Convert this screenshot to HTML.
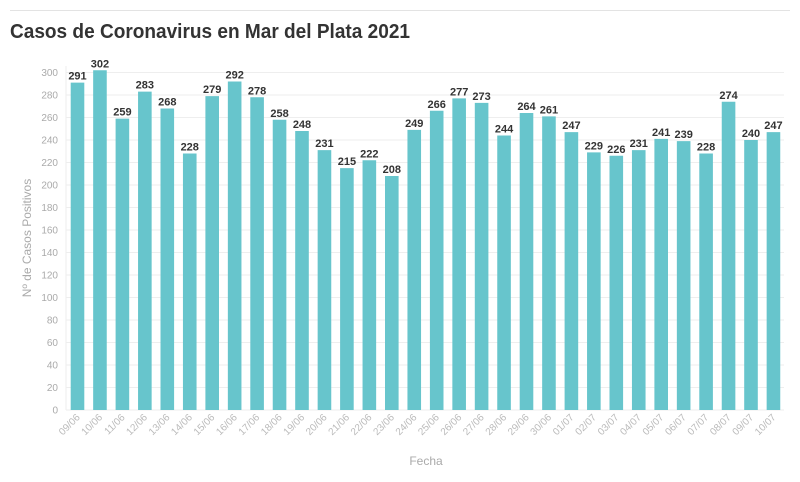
<!DOCTYPE html>
<html><head><meta charset="utf-8"><style>
body{margin:0;background:#fff;width:800px;height:477px;overflow:hidden;font-family:"Liberation Sans",sans-serif}
</style></head><body>
<svg width="800" height="477" xmlns="http://www.w3.org/2000/svg" font-family="Liberation Sans, sans-serif">
<line x1="10" y1="10.5" x2="790" y2="10.5" stroke="#e3e3e3"/>
<text x="10" y="38" font-size="20" font-weight="bold" fill="#333" textLength="400" lengthAdjust="spacingAndGlyphs">Casos de Coronavirus en Mar del Plata 2021</text>
<g id="g"></g>
<text transform="translate(31,238) rotate(-90)" text-anchor="middle" font-size="12" fill="#aaa">Nº de Casos Positivos</text>
<text x="426" y="465" text-anchor="middle" font-size="12" fill="#aaa">Fecha</text>
</svg>
<script>
var v=[291,302,259,283,268,228,279,292,278,258,248,231,215,222,208,249,266,277,273,244,264,261,247,229,226,231,241,239,228,274,240,247];
var d=[];for(var i=9;i<=30;i++)d.push((i<10?'0':'')+i+'/06');for(i=1;i<=10;i++)d.push((i<10?'0':'')+i+'/07');
var s='',y0=410,k=337.5/300;
for(var t=0;t<=300;t+=20){var y=y0-t*k;s+='<line x1="66" x2="784" y1="'+y+'" y2="'+y+'" stroke="#eee"/><text x="58" y="'+(y+3.5)+'" text-anchor="end" font-size="10" fill="#aaa">'+t+'</text>';}
s+='<line x1="66" x2="66" y1="66" y2="410" stroke="#eee"/>';
for(i=0;i<32;i++){var c=77.5+i*22.45,h=v[i]*k;
s+='<rect x="'+(c-6.8)+'" y="'+(y0-h)+'" width="13.6" height="'+h+'" fill="#67c5cc"/>';
s+='<text x="'+c+'" y="'+(y0-h-3)+'" text-anchor="middle" font-size="11" font-weight="bold" fill="#333">'+v[i]+'</text>';
s+='<text transform="translate('+(c+3)+',418) rotate(-45)" text-anchor="end" font-size="10" fill="#bbb">'+d[i]+'</text>';}
document.getElementById('g').innerHTML=s;
</script>
</body></html>
